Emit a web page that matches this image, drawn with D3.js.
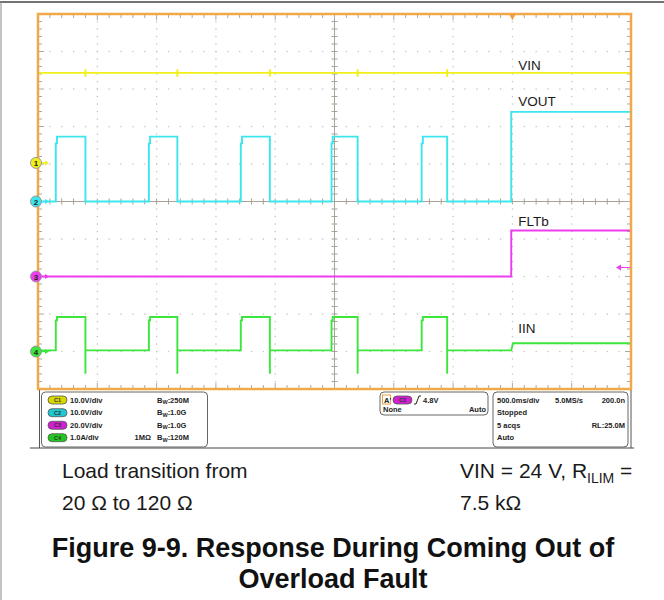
<!DOCTYPE html>
<html><head><meta charset="utf-8">
<script src="https://cdn.jsdelivr.net/npm/d3@7"></script>
<style>body{margin:0;background:#fff} svg{display:block} text{font-family:"Liberation Sans",Arial,sans-serif}</style>
</head><body>
<svg id="c" width="664" height="600"></svg>
<script>
// ---------------- data ----------------
const timeDomainMs = [-4000, 1000];          // 500 ms/div, 10 divisions, trigger at 0
const divDomain = [-5, 5];                   // 10 vertical divisions
const channelNames = ["VIN", "VOUT", "FLTb", "IIN"];
const channelPerDiv = [10, 10, 20, 1];       // V/div, V/div, V/div, A/div
const channelOffsetDiv = [1.03, 0, -2.0, -4.0];
const channelColors = ["#f0f018", "#3ce6ee", "#ee3cee", "#3ce63c"];
const pulseRiseMs = [-3850, -3065, -2290, -1525, -765];
const pulseFallMs = [-3600, -2825, -2045, -1305, -550];
const faultClearMs = -10;
const vinLevelsV = [24, 25, 23];                 // steady, blip high, blip low
const voutLevelsV = [0, 15.5, 17.3, 23.9];       // low, rise step, pulse, recovered
const fltbLevelsV = [0, 24.5];
const iinLevelsA = [0.03, 0.83, 0.92, -0.59, 0.22]; // low, rise step, pulse, spike, recovered
const labelTexts = ["VIN", "VOUT", "FLTb", "IIN"];
const labelValues = [24.8, 25.6, 27, 0.49];         // label position in channel units

// ---------------- layout ----------------
const L = 38, R = 631, T = 14, B = 389;
const svg = d3.select("#c");
const x = d3.scaleLinear().domain(timeDomainMs).range([L, R]);
const yDiv = d3.scaleLinear().domain(divDomain).range([B, T]);
const yCh = channelPerDiv.map((pd, i) =>
  d3.scaleLinear().domain([(divDomain[0] - channelOffsetDiv[i]) * pd, (divDomain[1] - channelOffsetDiv[i]) * pd]).range([B, T]));

// page frame
svg.append("line").attr("x1", 0).attr("x2", 664).attr("y1", 2).attr("y2", 2).attr("stroke", "#444").attr("stroke-width", 1.5);
svg.append("line").attr("x1", 1).attr("x2", 1).attr("y1", 2).attr("y2", 600).attr("stroke", "#888").attr("stroke-width", 1);

// ---------------- grid ----------------
const g = svg.append("g");
const majorT = d3.range(timeDomainMs[0], timeDomainMs[1] + 1, 500);
const minorT = d3.range(timeDomainMs[0], timeDomainMs[1] + 1, 100);
const majorD = d3.range(divDomain[0], divDomain[1] + 0.001, 1);
const minorD = d3.range(divDomain[0], divDomain[1] + 0.001, 0.2);
const centerT = -1500;
// dots
majorT.slice(1, -1).filter(t => t !== centerT).forEach(t => {
  minorD.forEach(d => g.append("rect").attr("x", x(t) - 0.6).attr("y", yDiv(d) - 0.6).attr("width", 1.3).attr("height", 1.3).attr("fill", "#c4c4c4"));
});
majorD.slice(1, -1).filter(d => Math.abs(d) > 1e-6).forEach(d => {
  minorT.forEach(t => g.append("rect").attr("x", x(t) - 0.6).attr("y", yDiv(d) - 0.6).attr("width", 1.3).attr("height", 1.3).attr("fill", "#c4c4c4"));
});
// center cross
g.append("line").attr("x1", x(centerT)).attr("x2", x(centerT)).attr("y1", T).attr("y2", B).attr("stroke", "#a8a298").attr("stroke-width", 1);
g.append("line").attr("x1", L).attr("x2", R).attr("y1", yDiv(0)).attr("y2", yDiv(0)).attr("stroke", "#a8a298").attr("stroke-width", 1);
minorD.forEach(d => g.append("line").attr("x1", x(centerT) - 3).attr("x2", x(centerT) + 3).attr("y1", yDiv(d)).attr("y2", yDiv(d)).attr("stroke", "#a8a298"));
minorT.forEach(t => g.append("line").attr("x1", x(t)).attr("x2", x(t)).attr("y1", yDiv(0) - 3).attr("y2", yDiv(0) + 3).attr("stroke", "#a8a298"));
// border ticks
minorD.forEach(d => {
  const len = Math.abs(d - Math.round(d)) < 1e-6 ? 6 : 4;
  g.append("line").attr("x1", L).attr("x2", L + len).attr("y1", yDiv(d)).attr("y2", yDiv(d)).attr("stroke", "#a8a8a8");
  g.append("line").attr("x1", R).attr("x2", R - len).attr("y1", yDiv(d)).attr("y2", yDiv(d)).attr("stroke", "#a8a8a8");
});
minorT.forEach(t => {
  const len = (t % 500 === 0) ? 6 : 4;
  g.append("line").attr("x1", x(t)).attr("x2", x(t)).attr("y1", T).attr("y2", T + len).attr("stroke", "#a8a8a8");
  g.append("line").attr("x1", x(t)).attr("x2", x(t)).attr("y1", B).attr("y2", B - len).attr("stroke", "#a8a8a8");
});

// ---------------- traces ----------------
const vinPts = [[timeDomainMs[0], vinLevelsV[0]]];
pulseFallMs.forEach(tf => vinPts.push([tf, vinLevelsV[0]], [tf, vinLevelsV[1]], [tf, vinLevelsV[2]], [tf, vinLevelsV[0]]));
vinPts.push([timeDomainMs[1], vinLevelsV[0]]);

const voutPts = [[timeDomainMs[0], voutLevelsV[0]]];
pulseRiseMs.forEach((tr, i) => {
  const tf = pulseFallMs[i];
  voutPts.push([tr, voutLevelsV[0]], [tr, voutLevelsV[1]], [tr + 10, voutLevelsV[1]], [tr + 10, voutLevelsV[2]], [tf, voutLevelsV[2]], [tf, voutLevelsV[0]]);
});
voutPts.push([faultClearMs, voutLevelsV[0]], [faultClearMs, voutLevelsV[3]], [timeDomainMs[1], voutLevelsV[3]]);

const fltbPts = [[timeDomainMs[0], fltbLevelsV[0]], [faultClearMs, fltbLevelsV[0]], [faultClearMs, fltbLevelsV[1]], [timeDomainMs[1], fltbLevelsV[1]]];

const iinPts = [[timeDomainMs[0], iinLevelsA[0]]];
pulseRiseMs.forEach((tr, i) => {
  const tf = pulseFallMs[i];
  iinPts.push([tr, iinLevelsA[0]], [tr, iinLevelsA[1]], [tr + 10, iinLevelsA[1]], [tr + 10, iinLevelsA[2]], [tf, iinLevelsA[2]], [tf, iinLevelsA[3]], [tf, iinLevelsA[0]]);
});
iinPts.push([faultClearMs, iinLevelsA[0]], [faultClearMs + 15, iinLevelsA[4]], [timeDomainMs[1], iinLevelsA[4]]);

const traces = [vinPts, voutPts, fltbPts, iinPts];
traces.forEach((pts, i) => {
  const line = d3.line().x(d => x(d[0])).y(d => yCh[i](d[1]));
  svg.append("path").attr("d", line(pts)).attr("fill", "none").attr("stroke", channelColors[i]).attr("stroke-width", 1.9);
});

// trace labels
labelTexts.forEach((t, i) => {
  svg.append("text").attr("x", x(faultClearMs) + 7).attr("y", yCh[i](labelValues[i])).attr("font-size", 13.5).attr("fill", "#1a1a1a").text(t);
});

// orange border
svg.append("rect").attr("x", L).attr("y", T).attr("width", R - L).attr("height", B - T).attr("fill", "none").attr("stroke", "#f0a848").attr("stroke-width", 2.5);
// trigger position marker
svg.append("path").attr("d", `M${x(0) - 3.5},${T} L${x(0) + 3.5},${T} L${x(0)},${T + 6} Z`).attr("fill", "#f0a040");
// trigger level marker (C3, 4.8 V)
const trigY = yCh[2](4.8);
svg.append("line").attr("x1", R - 12).attr("x2", R - 1).attr("y1", trigY).attr("y2", trigY).attr("stroke", channelColors[2]).attr("stroke-width", 1);
svg.append("path").attr("d", `M${R - 15},${trigY} L${R - 10},${trigY - 3} L${R - 10},${trigY + 3} Z`).attr("fill", channelColors[2]);

// channel offset markers
channelOffsetDiv.forEach((d, i) => {
  const cy = yDiv(d), cx = 36;
  svg.append("line").attr("x1", cx + 5).attr("x2", cx + 10).attr("y1", cy).attr("y2", cy).attr("stroke", channelColors[i]).attr("stroke-width", 1.3);
  svg.append("path").attr("d", `M${cx + 13},${cy} L${cx + 9},${cy - 2.5} L${cx + 9},${cy + 2.5} Z`).attr("fill", channelColors[i]);
  svg.append("circle").attr("cx", cx).attr("cy", cy).attr("r", 5.5).attr("fill", channelColors[i]).attr("stroke", "#9a9a9a").attr("stroke-width", 1);
  svg.append("text").attr("x", cx).attr("y", cy + 3).attr("text-anchor", "middle").attr("font-size", 8).attr("font-weight", "bold").attr("fill", "#222").text(i + 1);
});

// ---------------- status bar ----------------
const sb = svg.append("g");
sb.append("line").attr("x1", 39.5).attr("x2", 39.5).attr("y1", 390).attr("y2", 448).attr("stroke", "#555");
sb.append("line").attr("x1", 631).attr("x2", 631).attr("y1", 390).attr("y2", 448).attr("stroke", "#555");
sb.append("line").attr("x1", 30).attr("x2", 634).attr("y1", 448).attr("y2", 448).attr("stroke", "#444");
[[41.5, 392, 166, 55], [380, 392, 108, 23], [493, 392, 135, 55]].forEach(b =>
  sb.append("rect").attr("x", b[0]).attr("y", b[1]).attr("width", b[2]).attr("height", b[3]).attr("rx", 4).attr("fill", "none").attr("stroke", "#666").attr("stroke-width", 1));

const rowY = [400, 412.7, 425.3, 437.7];
const chScaleText = ["10.0V/div", "10.0V/div", "20.0V/div", "1.0A/div"];
const chBwText = [":250M", ":1.0G", ":1.0G", ":120M"];
const pillFill = ["#d8d800", "#22c8d0", "#d020d0", "#20c820"];
function pill(px, py, i, label) {
  sb.append("rect").attr("x", px).attr("y", py - 4).attr("width", 19).attr("height", 8).attr("rx", 4).attr("fill", pillFill[i]).attr("stroke", "#555").attr("stroke-width", 0.8);
  sb.append("text").attr("x", px + 9.5).attr("y", py + 2).attr("text-anchor", "middle").attr("font-size", 5.5).attr("font-weight", "bold").attr("fill", "#333").text(label);
}
const st = (tx, ty, s, anchor) => sb.append("text").attr("x", tx).attr("y", ty).attr("font-size", 7.5).attr("font-weight", "bold").attr("fill", "#222").attr("text-anchor", anchor || "start").text(s);
rowY.forEach((ry, i) => {
  pill(48, ry, i, "C" + (i + 1));
  st(70, ry + 2.6, chScaleText[i]);
  const bw = sb.append("text").attr("x", 157).attr("y", ry + 2.6).attr("font-size", 7.5).attr("font-weight", "bold").attr("fill", "#222");
  bw.append("tspan").text("B");
  bw.append("tspan").attr("font-size", 5.5).attr("dy", 1.5).text("W");
  bw.append("tspan").attr("dy", -1.5).text(chBwText[i]);
});
st(151, rowY[3] + 2.6, "1MΩ", "end");

// trigger box
sb.append("rect").attr("x", 382.5).attr("y", 395).attr("width", 8).attr("height", 9).attr("fill", "none").attr("stroke", "#f0a040").attr("stroke-width", 1);
st(384, 402.6, "A'");
pill(393, 400, 2, "C3");
sb.append("path").attr("d", "M414,404 L416,404 L419,396 L421,396").attr("fill", "none").attr("stroke", "#222").attr("stroke-width", 1);
st(423, 402.6, "4.8V");
st(383, 411.5, "None");
st(486, 411.5, "Auto", "end");

// timebase box
st(497, rowY[0] + 2.6, "500.0ms/div");
st(555, rowY[0] + 2.6, "5.0MS/s");
st(625, rowY[0] + 2.6, "200.0n", "end");
st(497, rowY[1] + 2.6, "Stopped");
st(497, rowY[2] + 2.6, "5 acqs");
st(625, rowY[2] + 2.6, "RL:25.0M", "end");
st(497, rowY[3] + 2.6, "Auto");

// ---------------- caption ----------------
const cap = (tx, ty, s) => svg.append("text").attr("x", tx).attr("y", ty).attr("font-size", 21).attr("fill", "#1a1a1a").text(s);
cap(62, 478, "Load transition from");
cap(62, 510, "20 Ω to 120 Ω");
const c2 = svg.append("text").attr("x", 460).attr("y", 478).attr("font-size", 21).attr("fill", "#1a1a1a");
c2.append("tspan").text("VIN = 24 V, R");
c2.append("tspan").attr("font-size", 14).attr("dy", 5).text("ILIM");
c2.append("tspan").attr("dy", -5).text(" =");
cap(460, 510, "7.5 kΩ");
const title = svg.append("text").attr("text-anchor", "middle").attr("font-size", 27).attr("font-weight", "bold").attr("fill", "#111");
title.append("tspan").attr("x", 333).attr("y", 557).text("Figure 9-9. Response During Coming Out of");
title.append("tspan").attr("x", 333).attr("y", 588).text("Overload Fault");
</script>
</body></html>
